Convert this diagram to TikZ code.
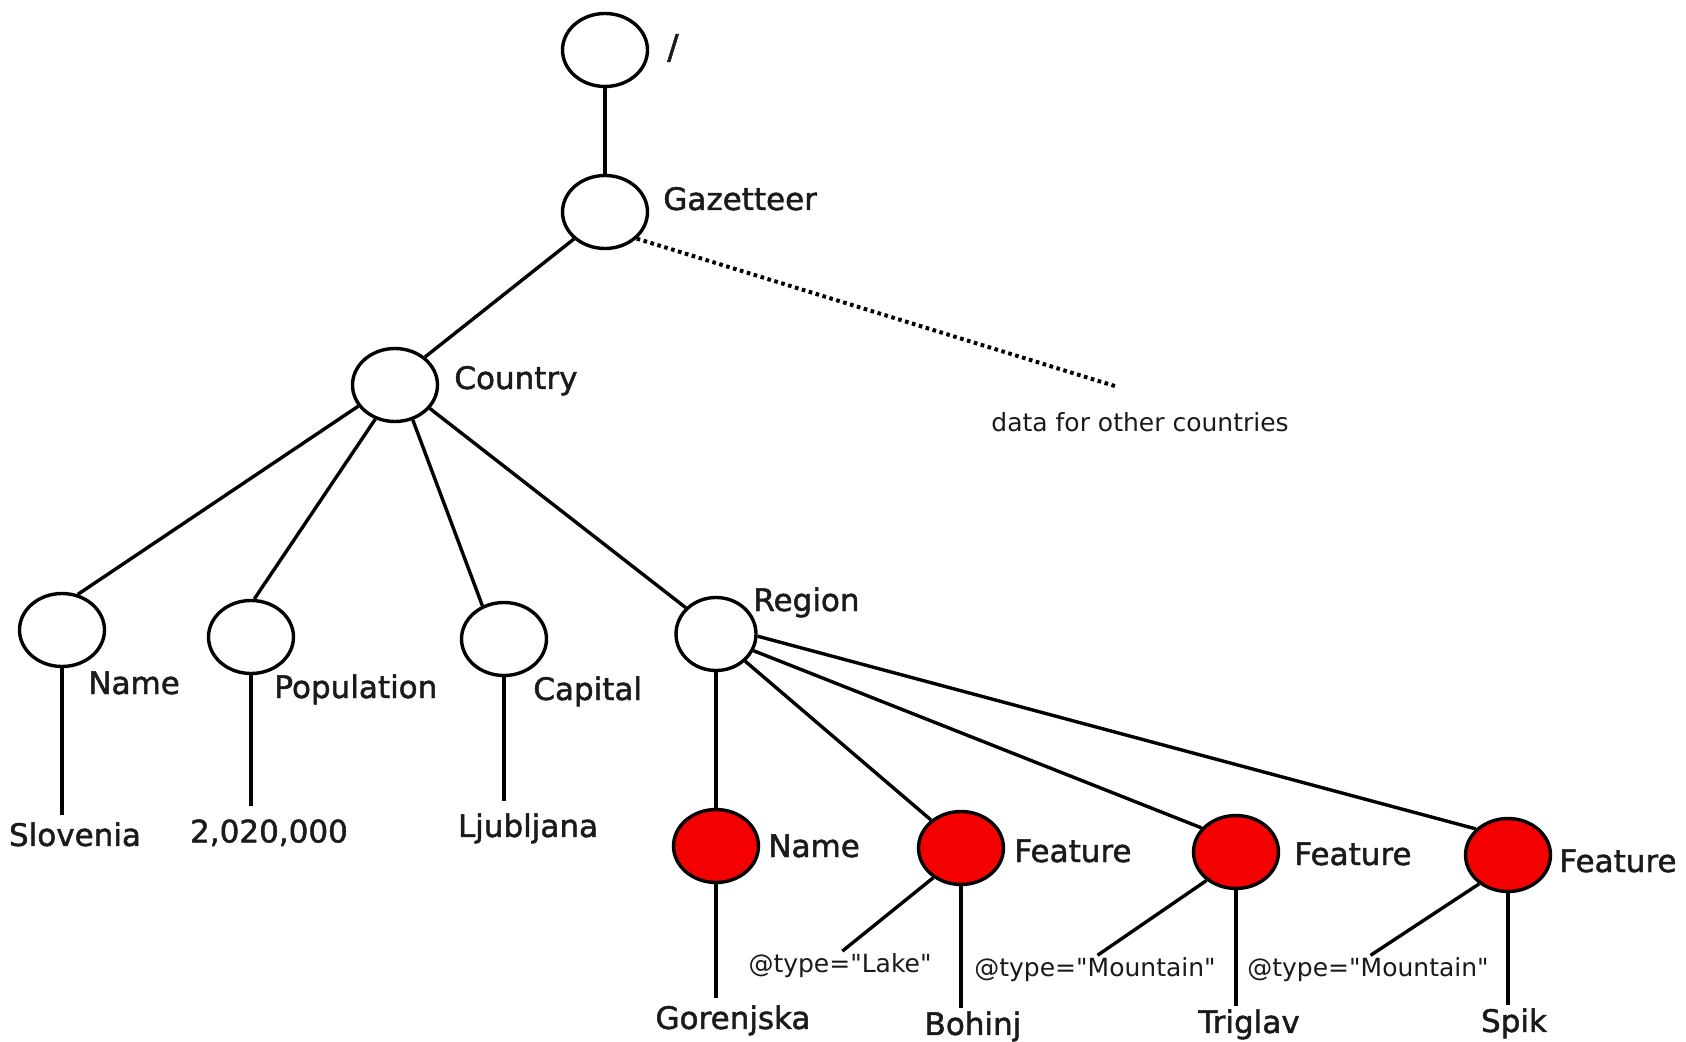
\documentclass[tikz,border=0pt]{standalone}
\usepackage{fontspec}
\newfontfamily\dvs[FakeBold=1.5]{DejaVu Sans}
\newfontfamily\dvsl{DejaVu Sans}
\usetikzlibrary{shapes.geometric}
\definecolor{nodered}{HTML}{F50000}
\definecolor{ink}{HTML}{1A1A1A}
\tikzset{
  circ/.style={ellipse, draw=black, line width=1.7pt, minimum width=42.5pt, minimum height=36.5pt, inner sep=0pt, fill=white},
  rcirc/.style={circ, fill=nodered},
  lbl/.style={font=\dvs\fontsize{15.5}{18}\selectfont, text=ink, inner sep=0pt, anchor=base west},
  leaf/.style={font=\dvs\fontsize{15.5}{18}\selectfont, text=ink, inner sep=0pt, anchor=north},
  small/.style={font=\dvsl\fontsize{12.5}{15}\selectfont, text=ink, inner sep=0pt},
  edge/.style={line width=1.7pt, draw=black},
  dotline/.style={line width=2pt, draw=black, dash pattern=on 1.8pt off 1.8pt}
}
\begin{document}
\begin{tikzpicture}[x=0.5pt,y=-0.5pt]
\useasboundingbox (0,0) rectangle (1686,1042);
\fill[white] (0,0) rectangle (1686,1042);

% circles
\node[circ] (root) at (605,50) {};
\node[circ] (gaz) at (605,212) {};
\node[circ] (country) at (395,385) {};
\node[circ] (name) at (62,630) {};
\node[circ] (pop) at (251,637) {};
\node[circ] (cap) at (504,639) {};
\node[circ, minimum width=40pt] (region) at (716,634) {};
\node[rcirc] (rname) at (716,846) {};
\node[rcirc] (f1) at (961,848) {};
\node[rcirc] (f2) at (1236,852) {};
\node[rcirc] (f3) at (1508,855) {};

% labels
\node[font=\dvs\fontsize{17}{20}\selectfont, text=ink, inner sep=0pt] (lroot) at (673,48) {/};
\node[lbl] (lgaz) at (663,210) {Gazetteer};
\node[lbl] (lcountry) at (454,389) {Country};
\node[small, anchor=base west] (lother) at (991,432) {data for other countries};
\node[lbl] (lname) at (88,694) {Name};
\node[lbl] (lpop) at (274,698) {Population};
\node[lbl] (lcap) at (533,700) {Capital};
\node[lbl] (lregion) at (753,611) {Region};
\node[lbl] (lrname) at (768,857) {Name};
\node[lbl] (lf1) at (1014,862) {Feature};
\node[lbl] (lf2) at (1294,865) {Feature};
\node[lbl] (lf3) at (1559,872) {Feature};

% leaves
\node[leaf] (slov) at (75,822) {Slovenia};
\node[leaf] (popv) at (269,819) {2,020,000};
\node[leaf] (ljub) at (528,813) {Ljubljana};
\node[leaf] (gor) at (733,1005) {Gorenjska};
\node[leaf] (boh) at (973,1011) {Bohinj};
\node[leaf] (trig) at (1249,1009) {Triglav};
\node[leaf] (spik) at (1514,1008) {Spik};

\node[small, anchor=north] (lake) at (840,953) {@type="Lake"};
\node[small, anchor=north] (mt1) at (1095,957) {@type="Mountain"};
\node[small, anchor=north] (mt2) at (1368,957) {@type="Mountain"};

\coordinate (oth) at (1118,387);

% connectors
\draw[edge] (root.south) -- (gaz.north);
\draw[edge] (gaz.221) -- (country.43);
\draw[dotline] (gaz.320) -- (oth);
\draw[edge] (country.210) -- (name.66);
\draw[edge] (country.240) -- (pop.85);
\draw[edge] (country.297) -- (cap.123);
\draw[edge] (country.326) -- (region.139);
\draw[edge, shorten >=3.5pt] (name.south) -- (name.south |- slov.north);
\draw[edge, shorten >=6.5pt] (pop.south) -- (pop.south |- popv.north);
\draw[edge, shorten >=6pt] (cap.south) -- (cap.south |- ljub.north);
\draw[edge] (region.south) -- (rname.north);
\draw[edge] (region.317) -- (f1.137);
\draw[edge] (region.336) -- (f2.145);
\draw[edge] (region.357) -- (f3.141);
\draw[edge, shorten >=3.5pt] (rname.south) -- (rname.south |- gor.north);
\draw[edge, shorten >=1.5pt] (f1.south) -- (f1.south |- boh.north);
\draw[edge, shorten >=1.5pt] (f2.south) -- (f2.south |- trig.north);
\draw[edge, shorten >=1.5pt] (f3.south) -- (f3.south |- spik.north);
\draw[edge, shorten >=1.5pt] (f1.227) -- (lake.north);
\draw[edge, shorten >=1.5pt] (f2.224) -- (mt1.north);
\draw[edge, shorten >=1.5pt] (f3.225) -- (mt2.north);
\end{tikzpicture}
\end{document}
